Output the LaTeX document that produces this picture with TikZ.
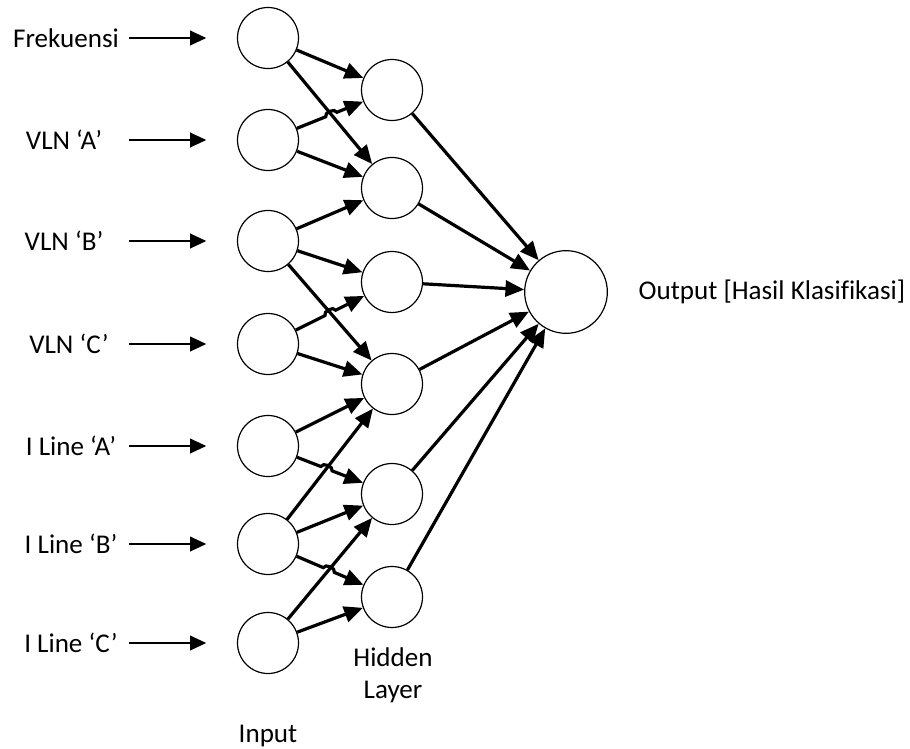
\documentclass[tikz,border=0pt]{standalone}
\usepackage{fontspec}
\setmainfont{Carlito}[Ligatures=CommonOff]
\usetikzlibrary{arrows.meta, calc}

\begin{document}
\begin{tikzpicture}[
        x=0.75pt, y=-0.75pt,
        font=\fontsize{20.3}{24}\selectfont,
        neuron/.style={
            circle,
            draw=black,
            line width=0.9pt,
            fill=white,
            minimum size=45.75pt,
            inner sep=0pt
        },
        feed/.style={
            -{Triangle[length=12pt, width=11pt]},
            line width=1pt
        },
        link/.style={
            -{Triangle[length=14pt, width=12pt]},
            line width=2.4pt
        }
    ]
    \useasboundingbox (0,0) rectangle (910,749);

    % Input layer
    \node[neuron] (i1) at (268,38) {};
    \node[neuron] (i2) at (268,140) {};
    \node[neuron] (i3) at (268,241) {};
    \node[neuron] (i4) at (268,344) {};
    \node[neuron] (i5) at (268,446) {};
    \node[neuron] (i6) at (268,544) {};
    \node[neuron] (i7) at (268,643) {};

    % Hidden layer
    \node[neuron] (h1) at (392,90) {};
    \node[neuron] (h2) at (392,188) {};
    \node[neuron] (h3) at (392,282) {};
    \node[neuron] (h4) at (392,384) {};
    \node[neuron] (h5) at (392,494) {};
    \node[neuron] (h6) at (392,597) {};

    % Output neuron
    \node[neuron, minimum size=62pt] (out) at (566,292) {};

    % Labels
    \node (l1) at (66,38) {Frekuensi};
    \node (l2) at (64,140) {VLN ‘A’};
    \node (l3) at (64,241) {VLN ‘B’};
    \node (l4) at (69,344) {VLN ‘C’};
    \node (l5) at (71,446) {I Line ‘A’};
    \node (l6) at (71,544) {I Line ‘B’};
    \node (l7) at (71,643) {I Line ‘C’};
    \node[anchor=west] (lout) at (634,292) {Output [Hasil Klasifikasi]};
    \node[align=center] (lhid) at (393,675) {Hidden\\Layer};
    \node (lin) at (268,736) {Input};

    % Inputs fed into the first layer
    \draw[feed] ([xshift=-81pt]i1.west) -- ([xshift=-23pt]i1.west);
    \draw[feed] ([xshift=-81pt]i2.west) -- ([xshift=-23pt]i2.west);
    \draw[feed] ([xshift=-81pt]i3.west) -- ([xshift=-23pt]i3.west);
    \draw[feed] ([xshift=-81pt]i4.west) -- ([xshift=-23pt]i4.west);
    \draw[feed] ([xshift=-81pt]i5.west) -- ([xshift=-23pt]i5.west);
    \draw[feed] ([xshift=-81pt]i6.west) -- ([xshift=-23pt]i6.west);
    \draw[feed] ([xshift=-81pt]i7.west) -- ([xshift=-23pt]i7.west);

    % Crossing points where a line hops over another
    \coordinate (x1) at (intersection of i2--h1 and i1--h2);
    \coordinate (x2) at (intersection of i4--h3 and i3--h4);
    \coordinate (x3) at (intersection of i5--h5 and i6--h4);
    \coordinate (x4) at (intersection of i6--h6 and i7--h5);

    % Input -> hidden
    \draw[link] (i1) -- (h1);
    \draw[link] (i1) -- (h2);
    \draw[link] (i2) -- ($(x1)!4.5pt!(i2)$) to[bend left=90] ($(x1)!4.5pt!(h1)$) -- (h1);
    \draw[link] (i2) -- (h2);
    \draw[link] (i3) -- (h2);
    \draw[link] (i3) -- (h3);
    \draw[link] (i3) -- (h4);
    \draw[link] (i4) -- ($(x2)!4.5pt!(i4)$) to[bend left=90] ($(x2)!4.5pt!(h3)$) -- (h3);
    \draw[link] (i4) -- (h4);
    \draw[link] (i5) -- (h4);
    \draw[link] (i5) -- ($(x3)!4.5pt!(i5)$) to[bend left=90] ($(x3)!4.5pt!(h5)$) -- (h5);
    \draw[link] (i6) -- (h4);
    \draw[link] (i6) -- (h5);
    \draw[link] (i6) -- ($(x4)!4.5pt!(i6)$) to[bend left=90] ($(x4)!4.5pt!(h6)$) -- (h6);
    \draw[link] (i7) -- (h5);
    \draw[link] (i7) -- (h6);

    % Hidden -> output
    \draw[link] (h1) -- (out);
    \draw[link] (h2) -- (out);
    \draw[link] (h3) -- (out);
    \draw[link] (h4) -- (out);
    \draw[link] (h5) -- (out);
    \draw[link] (h6) -- (out);

\end{tikzpicture}
\end{document}
